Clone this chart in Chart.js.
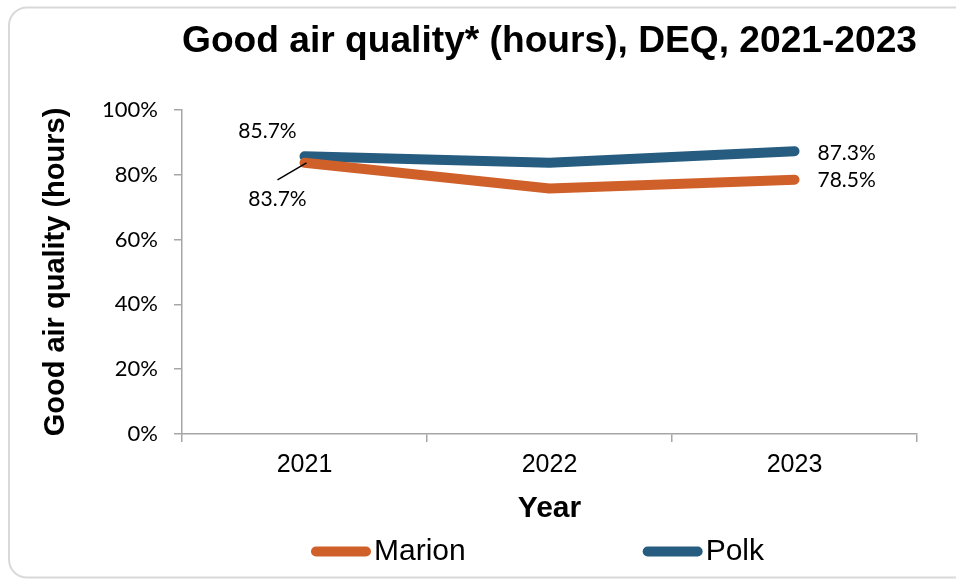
<!DOCTYPE html>
<html><head><meta charset="utf-8">
<script src="https://cdn.jsdelivr.net/npm/chart.js@4"></script>
<style>html,body{margin:0;padding:0;background:#fff;}</style>
</head><body>
<canvas id="c" width="956" height="579" style="display:block;width:956px;height:579px"></canvas>
<script>
const categories = ['2021', '2022', '2023'];
const seriesNames = ['Marion', 'Polk'];
const marionValues = [83.7, 75.8, 78.5];
const polkValues = [85.7, 83.7, 87.3];
const seriesColors = ['#D0602A', '#265C80'];
const yTickValues = [0, 20, 40, 60, 80, 100];
const titleText = 'Good air quality* (hours), DEQ, 2021-2023';
const xTitleText = 'Year';
const yTitleText = 'Good air quality (hours)';

const AXIS = '#a6a6a6';
const SANS = '"Liberation Sans", Arial, sans-serif';
const LABEL_FONT = 'Lato, "Open Sans", sans-serif';

const frame = {
  id: 'frame',
  beforeDraw(chart) {
    const ctx = chart.ctx;
    ctx.save();
    ctx.fillStyle = '#fff';
    ctx.fillRect(0, 0, chart.width, chart.height);
    ctx.strokeStyle = '#d9d9d9';
    ctx.lineWidth = 2;
    ctx.beginPath();
    ctx.roundRect(9, 7.5, chart.width + 10, chart.height - 9, 18);
    ctx.stroke();
    ctx.restore();
  }
};

const dataLabels = {
  id: 'dataLabels',
  afterDatasetsDraw(chart) {
    const ctx = chart.ctx;
    const m = chart.getDatasetMeta(0), p = chart.getDatasetMeta(1);
    const last = categories.length - 1;
    const fmt = v => v.toFixed(1) + '%';
    ctx.save();
    ctx.font = '21px ' + LABEL_FONT;
    ctx.fillStyle = '#000';
    ctx.textBaseline = 'middle';
    ctx.textAlign = 'center';
    let pt = p.data[0];
    ctx.fillText(fmt(polkValues[0]), pt.x - 37, pt.y - 25);
    pt = m.data[0];
    ctx.fillText(fmt(marionValues[0]), pt.x - 27, pt.y + 36);
    ctx.strokeStyle = '#000';
    ctx.lineWidth = 1.5;
    ctx.beginPath();
    ctx.moveTo(pt.x + 2, pt.y);
    ctx.lineTo(pt.x - 27, pt.y + 17);
    ctx.stroke();
    ctx.textAlign = 'left';
    pt = p.data[last];
    ctx.fillText(fmt(polkValues[last]), pt.x + 23, pt.y + 2);
    pt = m.data[last];
    ctx.fillText(fmt(marionValues[last]), pt.x + 23, pt.y + 1);
    ctx.restore();
  }
};

const customLegend = {
  id: 'customLegend',
  afterDraw(chart) {
    const ctx = chart.ctx;
    const ds = chart.data.datasets;
    const area = chart.chartArea;
    ctx.save();
    ctx.font = '30px ' + SANS;
    const pill = 60, gapText = 3, gapItem = 177, thick = 10;
    const widths = ds.map(d => pill + gapText + ctx.measureText(d.label).width);
    const total = widths.reduce((a, b) => a + b, 0) + gapItem * (ds.length - 1);
    let x = (area.left + area.right) / 2 - 12 - total / 2;
    const y = chart.height - 27.5;
    ds.forEach((d, i) => {
      ctx.strokeStyle = d.borderColor;
      ctx.lineWidth = thick;
      ctx.lineCap = 'round';
      ctx.beginPath();
      ctx.moveTo(x + thick / 2, y);
      ctx.lineTo(x + pill - thick / 2, y);
      ctx.stroke();
      ctx.fillStyle = '#000';
      ctx.textBaseline = 'middle';
      ctx.textAlign = 'left';
      ctx.fillText(d.label, x + pill + gapText, y);
      x += widths[i] + gapItem;
    });
    ctx.restore();
  }
};

const mkDataset = (label, data, color) => ({
  label, data,
  borderColor: color,
  backgroundColor: color,
  borderWidth: 10,
  borderCapStyle: 'round',
  borderJoinStyle: 'round',
  pointRadius: 0,
  pointHoverRadius: 0,
  tension: 0,
  fill: false
});

new Chart(document.getElementById('c'), {
  type: 'line',
  data: {
    labels: categories,
    datasets: [
      mkDataset(seriesNames[0], marionValues, seriesColors[0]),
      mkDataset(seriesNames[1], polkValues, seriesColors[1])
    ]
  },
  options: {
    responsive: false,
    devicePixelRatio: 1,
    animation: false,
    layout: { padding: { top: 0, left: 10, right: 39, bottom: 52 } },
    plugins: {
      legend: { display: false },
      tooltip: { enabled: false },
      title: {
        display: true,
        text: titleText,
        fullSize: false,
        color: '#000',
        font: { family: SANS, size: 37.5, weight: 'bold' },
        padding: { top: 19.5, bottom: 45.5 }
      }
    },
    scales: {
      x: {
        type: 'category',
        offset: true,
        grid: { display: true, drawOnChartArea: false, drawTicks: true, tickLength: 8, offset: true, color: AXIS, lineWidth: 1.5 },
        border: { display: true, color: AXIS, width: 1.5 },
        ticks: { color: '#000', font: { family: SANS, size: 25 }, padding: 8 },
        title: { display: true, text: xTitleText, color: '#000', font: { family: SANS, size: 30, weight: 'bold' }, padding: { top: 3, bottom: 0 } }
      },
      y: {
        min: 0,
        max: 100,
        afterBuildTicks: s => { s.ticks = yTickValues.map(v => ({ value: v })); },
        afterFit: s => { s.width = 172; },
        grid: { display: true, drawOnChartArea: false, drawTicks: true, tickLength: 8, color: AXIS, lineWidth: 1.5 },
        border: { display: true, color: AXIS, width: 1.5 },
        ticks: { color: '#000', font: { family: LABEL_FONT, size: 22 }, padding: 16, callback: v => v + '%' },
        title: { display: true, text: yTitleText, color: '#000', font: { family: SANS, size: 29, weight: 'bold' }, padding: { top: 28.6, bottom: 0 } }
      }
    }
  },
  plugins: [frame, dataLabels, customLegend]
});
</script>
</body></html>
